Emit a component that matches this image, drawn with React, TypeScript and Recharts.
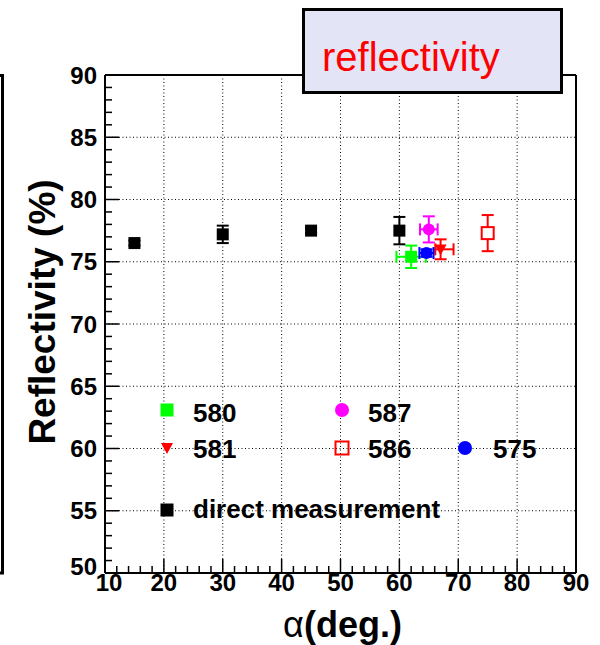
import React from "react";
import { ScatterChart, Scatter, XAxis, YAxis, CartesianGrid, ErrorBar, Label } from "recharts";

const FONT = "'Liberation Sans', Arial, Helvetica, sans-serif";

// axis ticks (major ones get a label and a grid line)
const xTicks = [10, 20, 30, 40, 50, 60, 70, 80, 90];
const yTicks = [50, 55, 60, 65, 70, 75, 80, 85, 90];
const xMinorTicks = Array.from({ length: 41 }, (_, i) => 10 + i * 2);
const yMinorTicks = Array.from({ length: 41 }, (_, i) => 50 + i);

// reflectivity vs incidence angle
const direct = [
  { angle: 15, refl: 76.5, reflErr: 0.2 },
  { angle: 30, refl: 77.2, reflErr: 0.7 },
  { angle: 45, refl: 77.5, reflErr: 0.2 },
  { angle: 60, refl: 77.5, reflErr: 1.1 },
];
const run580 = [{ angle: 62, refl: 75.4, angleErr: 2.5, reflErr: 0.9 }];
const run581 = [{ angle: 67, refl: 76.0, angleErr: [0.9, 2.2], reflErr: 0.8 }];
const run587 = [{ angle: 65, refl: 77.6, angleErr: 1.5, reflErr: 1.05 }];
const run586 = [{ angle: 75, refl: 77.3, reflErr: 1.45 }];
const run575 = [{ angle: 64.6, refl: 75.7, angleErr: 1.2, reflErr: 0.3 }];

const square = (color: string, size: number) => (p: any) => (
  <rect x={p.cx - size / 2} y={p.cy - size / 2} width={size} height={size} fill={color} />
);
const openSquare = (color: string, size: number) => (p: any) => (
  <rect x={p.cx - size / 2} y={p.cy - size / 2} width={size} height={size} fill="#fff" stroke={color} strokeWidth={2} />
);
const dot = (color: string, r: number) => (p: any) => <circle cx={p.cx} cy={p.cy} r={r} fill={color} />;
const downTriangle = (color: string, s: number) => (p: any) => (
  <polygon
    points={`${p.cx - s / 2},${p.cy - s * 0.4} ${p.cx + s / 2},${p.cy - s * 0.4} ${p.cx},${p.cy + s * 0.5}`}
    fill={color}
  />
);

const frame = { stroke: "#000", strokeWidth: 2 };
const X_MARGIN = 1;
const Y_MARGIN = 8;

// label + inward tick mark
const XTick = (p: any) => {
  const v = p.payload.value;
  const major = v % 10 === 0;
  const y0 = p.y - X_MARGIN;
  return (
    <g>
      <line x1={p.x} x2={p.x} y1={y0} y2={y0 - (major ? 14 : 7)} stroke="#000" strokeWidth={1.5} />
      {major && (
        <text x={p.x} dx={v === 10 ? 4 : 0} y={p.y} dy="0.72em" textAnchor="middle" fontFamily={FONT} fontWeight={700} fontSize={24} fill="#000">
          {v}
        </text>
      )}
    </g>
  );
};

const YTick = (p: any) => {
  const v = p.payload.value;
  const major = v % 5 === 0;
  const x0 = p.x + Y_MARGIN;
  return (
    <g>
      <line x1={x0} x2={x0 + (major ? 14 : 7)} y1={p.y} y2={p.y} stroke="#000" strokeWidth={1.5} />
      {major && (
        <text x={p.x} y={p.y} dy={v === 50 ? "0.1em" : "0.36em"} textAnchor="end" fontFamily={FONT} fontWeight={700} fontSize={24} fill="#000">
          {v}
        </text>
      )}
    </g>
  );
};

const YTitle = (props: any) => {
  const vb = props.viewBox;
  const cx = vb.x + 42;
  const cy = vb.y + vb.height / 2 - 12;
  return (
    <text
      x={cx}
      y={cy}
      transform={`rotate(-90 ${cx} ${cy})`}
      textAnchor="middle"
      dominantBaseline="central"
      fontFamily={FONT}
      fontWeight={700}
      fontSize={37}
      fill="#000"
    >
      Reflectivity (%)
    </text>
  );
};

const XTitle = (props: any) => {
  const vb = props.viewBox;
  return (
    <text x={vb.x + vb.width / 2 + 2} y={vb.y + 64} textAnchor="middle" fontFamily={FONT} fontSize={36} fill="#000">
      <tspan>α</tspan>
      <tspan fontWeight={700}>(deg.)</tspan>
    </text>
  );
};

const legendText = { fontFamily: FONT, fontWeight: 700, fontSize: 26, fill: "#000" } as const;

export default function App() {
  return (
    <div style={{ position: "absolute", left: 0, top: 0, width: 600, height: 645, background: "#fff" }}>
      <ScatterChart width={600} height={645} margin={{ top: 74, right: 23, bottom: 0, left: 0 }}>
        <CartesianGrid
          xAxisId="x"
          yAxisId="y"
          verticalValues={xTicks}
          horizontalValues={yTicks}
          stroke="#000"
          strokeDasharray="1 2.5"
          strokeWidth={1}
        />

        <XAxis
          xAxisId="x"
          dataKey="angle"
          type="number"
          domain={[10, 90]}
          allowDataOverflow
          ticks={xMinorTicks}
          interval={0}
          height={72}
          tickLine={false}
          tickSize={0}
          tickMargin={X_MARGIN}
          axisLine={frame}
          tick={XTick}
        >
          <Label content={XTitle} />
        </XAxis>
        <YAxis
          yAxisId="y"
          dataKey="refl"
          type="number"
          domain={[50, 90]}
          allowDataOverflow
          ticks={yMinorTicks}
          interval={0}
          width={105}
          tickLine={false}
          tickSize={0}
          tickMargin={Y_MARGIN}
          axisLine={frame}
          tick={YTick}
        >
          <Label content={YTitle} />
        </YAxis>
        <XAxis xAxisId="top" orientation="top" type="number" domain={[10, 90]} allowDataOverflow height={1} tick={false} tickLine={false} axisLine={frame} />
        <YAxis yAxisId="right" orientation="right" type="number" domain={[50, 90]} allowDataOverflow width={1} tick={false} tickLine={false} axisLine={frame} />

        <Scatter name="direct measurement" data={direct} xAxisId="x" yAxisId="y" shape={square("#000", 12)} isAnimationActive={false}>
          <ErrorBar dataKey="reflErr" direction="y" width={6} stroke="#000" strokeWidth={2} />
        </Scatter>
        <Scatter name="586" data={run586} xAxisId="x" yAxisId="y" shape={openSquare("#ff0000", 12)} isAnimationActive={false}>
          <ErrorBar dataKey="reflErr" direction="y" width={6} stroke="#ff0000" strokeWidth={2} />
        </Scatter>
        <Scatter name="587" data={run587} xAxisId="x" yAxisId="y" shape={dot("#ff00ff", 6)} isAnimationActive={false}>
          <ErrorBar dataKey="reflErr" direction="y" width={6} stroke="#ff00ff" strokeWidth={2} />
          <ErrorBar dataKey="angleErr" direction="x" width={6} stroke="#ff00ff" strokeWidth={2} />
        </Scatter>
        <Scatter name="580" data={run580} xAxisId="x" yAxisId="y" shape={square("#00ff00", 12)} isAnimationActive={false}>
          <ErrorBar dataKey="reflErr" direction="y" width={6} stroke="#00ff00" strokeWidth={2} />
          <ErrorBar dataKey="angleErr" direction="x" width={6} stroke="#00ff00" strokeWidth={2} />
        </Scatter>
        <Scatter name="581" data={run581} xAxisId="x" yAxisId="y" shape={downTriangle("#ff0000", 12)} isAnimationActive={false}>
          <ErrorBar dataKey="reflErr" direction="y" width={6} stroke="#ff0000" strokeWidth={2} />
          <ErrorBar dataKey="angleErr" direction="x" width={6} stroke="#ff0000" strokeWidth={2} />
        </Scatter>
        <Scatter name="575" data={run575} xAxisId="x" yAxisId="y" shape={dot("#0000ff", 6)} isAnimationActive={false}>
          <ErrorBar dataKey="reflErr" direction="y" width={6} stroke="#0000ff" strokeWidth={2} />
          <ErrorBar dataKey="angleErr" direction="x" width={6} stroke="#0000ff" strokeWidth={2} />
        </Scatter>
      </ScatterChart>

      <svg width={600} height={645} style={{ position: "absolute", left: 0, top: 0, pointerEvents: "none" }}>
        {/* edge of the neighbouring pad */}
        <path d="M0 75.5 H2.5 V573 H0" fill="none" stroke="#000" strokeWidth={3} />

        {/* legend */}
        <rect x={160.5} y={403.5} width={13} height={13} fill="#00ff00" />
        <text x={193} y={422} {...legendText}>580</text>
        <circle cx={342} cy={410} r={7} fill="#ff00ff" />
        <text x={368} y={422} {...legendText}>587</text>
        <polygon points="161,443 173,443 167,454" fill="#ff0000" />
        <text x={193} y={458} {...legendText}>581</text>
        <rect x={335.5} y={441.5} width={13} height={13} fill="none" stroke="#ff0000" strokeWidth={2} />
        <text x={368} y={458} {...legendText}>586</text>
        <circle cx={465} cy={448} r={7} fill="#0000ff" />
        <text x={493} y={458} {...legendText}>575</text>
        <rect x={160.5} y={503.5} width={13} height={13} fill="#000" />
        <text x={193} y={518} {...legendText}>direct measurement</text>

        {/* title box */}
        <rect x={303.5} y={9.5} width={258} height={83} fill="#e4e4f7" stroke="#000" strokeWidth={3} />
        <text x={322} y={71} fontFamily={FONT} fontSize={40} fill="#ff0000">reflectivity</text>
      </svg>
    </div>
  );
}
